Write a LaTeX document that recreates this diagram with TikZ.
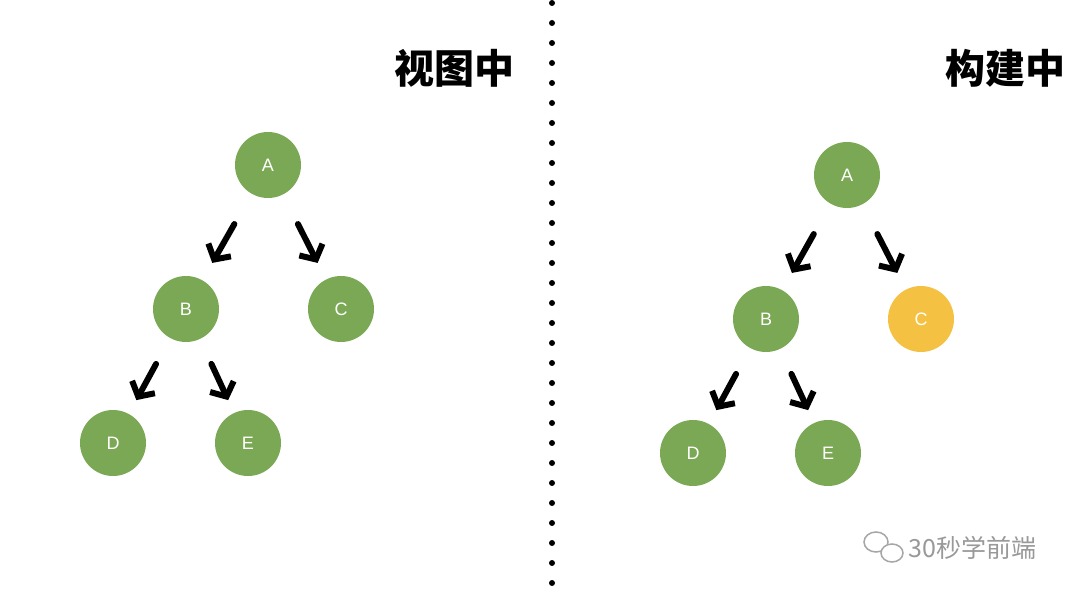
\documentclass[tikz,border=0pt]{standalone}
\usepackage{fontspec}
\setmainfont{Liberation Sans}
\newfontfamily\cjk{Noto Sans CJK SC}
\usetikzlibrary{arrows.meta,calc}
\definecolor{gr}{HTML}{7BA854}
\definecolor{yl}{HTML}{F4C143}
\tikzset{
 nd/.style={circle,fill=gr,minimum size=66pt,inner sep=0pt,text=white,font=\fontsize{18}{18}\selectfont},
 ar/.style={line width=6pt,-{Straight Barb[length=11pt,width=26pt,line width=6pt]},line cap=round},
 ttl/.style={anchor=east,font=\cjk\bfseries\fontsize{40}{40}\selectfont}
}
\newcommand{\tarr}[2]{\draw[ar] ($(#1)!0.41!(#2)$) -- ($(#1)!0.68!(#2)$);}
\begin{document}
\begin{tikzpicture}[x=1pt,y=-1pt]
\useasboundingbox[fill=white] (0,0) rectangle (1080,596);
\foreach \y in {3,23,...,596} \fill (552,\y) circle (3pt);
\node[ttl] (t1) at (518,68) {视图中};
\node[ttl] (t2) at (1069,68) {构建中};
\node[nd] (A) at (268,165) {A};
\node[nd] (B) at (186,309) {B};
\node[nd] (C) at (341,309) {C};
\node[nd] (D) at (113,443) {D};
\node[nd] (E) at (248,443) {E};
\tarr{A}{B}\tarr{A}{C}\tarr{B}{D}\tarr{B}{E}
\node[nd] (A2) at (847,175) {A};
\node[nd] (B2) at (766,319) {B};
\node[nd,fill=yl] (C2) at (921,319) {C};
\node[nd] (D2) at (693,453) {D};
\node[nd] (E2) at (828,453) {E};
\tarr{A2}{B2}\tarr{A2}{C2}\tarr{B2}{D2}\tarr{B2}{E2}
\draw[gray!70,line width=1.5pt] (876,542) ellipse (12pt and 10pt);
\draw[gray!70,line width=1.5pt,fill=white] (892,553) ellipse (11pt and 9pt);
\node[anchor=west,text=gray!80,font=\cjk\fontsize{25}{25}\selectfont] (wm) at (905,548) {30秒学前端};
\end{tikzpicture}
\end{document}
